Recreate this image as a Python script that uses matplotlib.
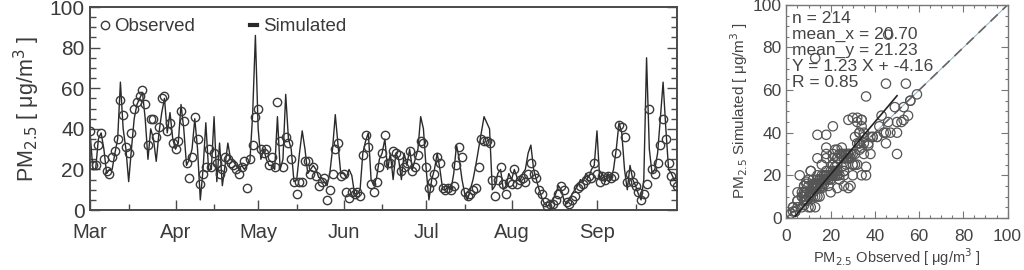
import matplotlib
matplotlib.use("Agg")
import matplotlib.pyplot as plt
import numpy as np

plt.rcParams['font.family'] = ['Liberation Sans', 'DejaVu Sans']

months = ["Mar", "Apr", "May", "Jun", "Jul", "Aug", "Sep"]
month_start_days = [0, 31, 61, 92, 122, 153, 184]
mid_month_days = [14, 45, 75, 106, 136, 167, 198]

observed = [
    39, 22, 22, 32, 38, 25, 19, 18, 26, 29,
    35, 54, 47, 31, 28, 38, 50, 53, 56, 59,
    52, 32, 45, 45, 36, 41, 55, 56, 39, 43,
    33, 30, 34, 49, 44, 23, 16, 26, 46, 35,
    13, 18, 21, 30, 21, 28, 23, 18, 20, 26,
    25, 23, 22, 20, 18, 21, 24, 11, 25, 32,
    46, 50, 30, 28, 30, 22, 26, 21, 53, 34,
    21, 36, 33, 25, 14, 8, 14, 14, 24, 24,
    18, 21, 17, 12, 14, 16, 5, 10, 18, 30,
    33, 17, 18, 9, 6, 9, 8, 9, 7, 27,
    37, 31, 13, 9, 14, 21, 28, 37, 23, 23,
    29, 28, 27, 19, 21, 23, 29, 19, 21, 27,
    34, 33, 21, 11, 14, 18, 26, 23, 11, 10,
    11, 10, 12, 22, 31, 26, 9, 7, 8, 10,
    11, 21, 35, 34, 34, 33, 15, 7, 15, 21,
    13, 8, 14, 13, 20, 13, 15, 16, 14, 18,
    23, 18, 16, 10, 8, 4, 2, 3, 3, 5,
    8, 12, 10, 4, 3, 5, 7, 11, 12, 13,
    15, 17, 16, 23, 18, 14, 17, 15, 17, 16,
    17, 28, 42, 41, 36, 14, 18, 14, 12, 9,
    5, 8, 13, 50, 20, 18, 23, 32, 45, 35,
    23, 17, 14, 12,
]

simulated = [
    38, 20, 20, 35, 38, 30, 18, 20, 20, 28,
    35, 63, 40, 30, 14, 30, 45, 52, 55, 58,
    45, 25, 40, 35, 24, 38, 48, 55, 38, 48,
    35, 30, 33, 52, 40, 22, 25, 30, 45, 30,
    5, 20, 43, 20, 20, 46, 14, 33, 12, 22,
    33, 25, 24, 22, 20, 22, 20, 22, 24, 47,
    86, 40, 25, 30, 25, 22, 22, 20, 46, 20,
    25, 57, 35, 30, 14, 15, 28, 39, 30, 18,
    20, 22, 20, 16, 16, 14, 12, 18, 30, 47,
    32, 18, 18, 16, 20, 17, 8, 8, 10, 28,
    34, 38, 15, 12, 16, 25, 28, 35, 20, 28,
    15, 28, 25, 15, 28, 22, 30, 20, 25, 30,
    46, 40, 20, 5, 15, 20, 28, 20, 10, 10,
    12, 10, 18, 32, 25, 15, 8, 5, 10, 15,
    22, 30, 38, 46, 43, 40, 10, 12, 18, 20,
    10, 12, 18, 15, 20, 16, 14, 18, 20, 28,
    32, 20, 15, 10, 6, 3, 2, 3, 5, 8,
    12, 10, 5, 3, 5, 8, 10, 12, 15, 14,
    18, 16, 20, 22, 39, 15, 18, 14, 18, 15,
    20, 30, 43, 38, 20, 10, 22, 15, 12, 8,
    5, 15, 75, 30, 18, 20, 28, 45, 63, 40,
    20, 18, 15, 14,
]

stats_lines = ["n = 214", "mean_x = 20.70", "mean_y = 21.23",
               "Y = 1.23 X + -4.16", "R = 0.85"]
fit_slope = 1.23
fit_intercept = -4.16
fit_x_range = [4, 50]

days = np.arange(len(observed))
edge = "#3a3a3a"
spine_c = "#4a4a4a"

fig = plt.figure(figsize=(10.24, 2.70), dpi=100)

# ---- time series ----
ax = fig.add_axes([0.088, 0.222, 0.573, 0.752])
ax.plot(days, simulated, color="#2a2a2a", lw=1.0, label="Simulated", zorder=2)
ax.plot(days, observed, linestyle="none", marker="o", ms=6, mfc="none",
        mec=edge, mew=1.0, label="Observed", zorder=3)
ax.set_xlim(0, len(observed) - 1)
ax.set_ylim(0, 100)
ax.set_xticks(month_start_days)
ax.set_xticklabels(months)
ax.set_xticks(mid_month_days, minor=True)
ax.set_yticks([0, 20, 40, 60, 80, 100])
ax.set_yticks(np.arange(0, 101, 5), minor=True)
ax.tick_params(axis="both", which="both", direction="in", right=True,
               colors=spine_c, labelcolor="#3a3a3a", width=1)
ax.tick_params(axis="y", labelsize=15, pad=4)
ax.tick_params(axis="x", labelsize=14.5, pad=9)
ax.tick_params(which="major", length=7)
ax.tick_params(which="minor", length=4)
for s in ax.spines.values():
    s.set_color(spine_c)
    s.set_linewidth(1.4)
ax.set_ylabel("PM$_{2.5}$ [ μg/m$^3$ ]", fontsize=15.5, color="#3a3a3a", labelpad=5)
h, l = ax.get_legend_handles_labels()
ax.legend([h[1], h[0]], [l[1], l[0]], ncol=2, loc="upper left",
          frameon=False, fontsize=13.5, handlelength=0.4, columnspacing=2.9,
          handletextpad=0.3, borderaxespad=0.2, labelcolor="#3a3a3a")
leg = ax.get_legend()
leg.legend_handles[1].set_linewidth(3)

# ---- scatter ----
ax2 = fig.add_axes([0.768, 0.193, 0.216, 0.789])
ax2.plot([0, 100], [0, 100], color="#9ab8c8", lw=0.8, zorder=1)
ax2.plot([0, 100], [0, 100], color="#666666", lw=1.2, ls=(0, (6, 4)), zorder=2)
ax2.scatter(observed, simulated, s=45, facecolors="none", edgecolors="#555555",
            linewidths=0.9, zorder=3)
fx = np.array(fit_x_range, dtype=float)
ax2.plot(fx, fit_slope * fx + fit_intercept, color="#222222", lw=1.2, zorder=4)
ax2.set_xlim(0, 100)
ax2.set_ylim(0, 100)
ax2.set_xticks([0, 20, 40, 60, 80, 100])
ax2.set_yticks([0, 20, 40, 60, 80, 100])
ax2.set_xticks(np.arange(0, 101, 5), minor=True)
ax2.set_yticks(np.arange(0, 101, 5), minor=True)
ax2.tick_params(axis="both", which="both", direction="in", right=True, top=True,
                colors="#777777", labelcolor="#444444", labelsize=12.5, width=0.8)
ax2.tick_params(which="major", length=5)
ax2.tick_params(which="minor", length=2.5)
ax2.tick_params(axis="x", pad=8)
for s in ax2.spines.values():
    s.set_color("#777777")
    s.set_linewidth(1.0)
ax2.set_ylabel("PM$_{2.5}$ Simulated [ μg/m$^3$ ]", fontsize=11, color="#444444", labelpad=2)
ax2.set_xlabel("PM$_{2.5}$ Observed [ μg/m$^3$ ]", fontsize=10.5, color="#444444", labelpad=2)
ax2.text(2.5, 97, "\n".join(stats_lines), ha="left", va="top", fontsize=12.5,
         color="#444444", linespacing=1.08)

fig.savefig("out.png", dpi=100)
